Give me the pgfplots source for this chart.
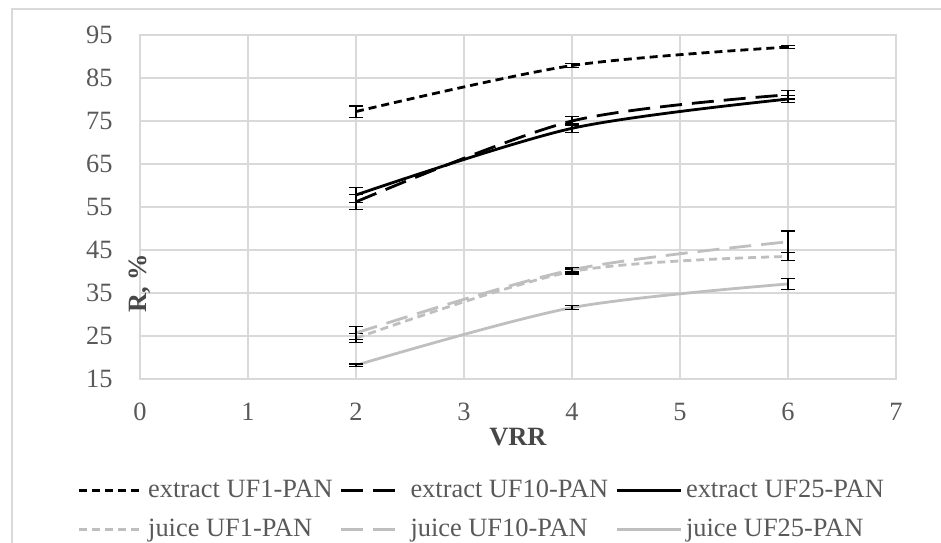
\documentclass[border=0pt]{standalone}
\usepackage{fontspec}
\setmainfont{Liberation Serif}
\usepackage{pgfplots}
\pgfplotsset{compat=1.18}
\usepackage{pgfplotstable}
\definecolor{gridgray}{HTML}{D9D9D9}
\definecolor{txtgray}{HTML}{595959}
\definecolor{juicegray}{HTML}{BFBFBF}

% x = VRR, y = R %, e = error
\pgfplotstableread{
x y e
2 77.2 1.3
4 87.9 0.4
6 92.2 0.3
}\extA
\pgfplotstableread{
x y e
2 56.2 1.8
4 75.0 1.1
6 81.1 1.0
}\extB
\pgfplotstableread{
x y e
2 57.8 1.7
4 73.3 1.0
6 80.1 0.8
}\extC
\pgfplotstableread{
x y e
2 24.5 1.0
4 40.0 0.6
6 43.5 1.0
}\juiA
\pgfplotstableread{
x y e
2 25.7 1.6
4 40.4 0.5
6 46.9 2.5
}\juiB
\pgfplotstableread{
x y e
2 18.2 0.3
4 31.6 0.5
6 37.1 1.3
}\juiC

\begin{document}
\begin{tikzpicture}
\useasboundingbox (-70pt,-81.5pt) rectangle (400.5pt,189.5pt);
\draw[gridgray, line width=0.8pt] (-64pt,-90pt) -- (-64pt,185pt) -- (410pt,185pt);
\begin{axis}[
    at={(0,0)}, anchor=south west,
    scale only axis,
    width=378pt, height=172pt,
    xmin=0, xmax=7, ymin=15, ymax=95,
    xtick={0,1,...,7},
    ytick={15,25,...,95},
    major tick length=0pt,
    grid=major,
    grid style={gridgray, line width=0.6pt},
    axis line style={gridgray, line width=0.6pt},
    /pgf/number format/assume math mode=true,
    font=\fontsize{13.2}{15.5}\selectfont,
    tick label style={txtgray},
    yticklabel style={anchor=east, inner sep=0pt, xshift=-13.5pt},
    xticklabel style={anchor=north, inner sep=0pt, yshift=-12pt},
    xlabel={\textbf{VRR}},
    ylabel={\textbf{R, \%}},
    xlabel style={at={(axis description cs:0.5,0)}, anchor=north, inner sep=0pt, yshift=-24.5pt, txtgray!80!black},
    ylabel style={at={(axis description cs:0,0.5)}, anchor=center, inner sep=0pt, xshift=-38pt, txtgray!80!black},
    legend columns=3,
    legend cell align=left,
    legend style={at={(axis description cs:-0.0913,-0.27)}, anchor=north west,
        draw=none, fill=none, text=txtgray, row sep=5pt,
        /tikz/every even column/.append style={column sep=1.5pt}},
    legend image code/.code={\draw[#1] (0pt,0pt) -- (32pt,0pt);},
    every axis plot/.append style={line width=1.4pt, smooth, tension=0.5},
    error bars/y dir=both,
    error bars/y explicit,
    error bars/error bar style={solid, black, line width=0.6pt},
    error bars/error mark options={rotate=90, mark size=3.5pt, solid, black, line width=0.6pt},
]
\addplot[black, dash pattern=on 4pt off 2.5pt] table[x=x, y=y, y error=e] {\extA};
\addlegendentry{extract UF1-PAN}
\addplot[black, dash pattern=on 11pt off 5pt] table[x=x, y=y, y error=e] {\extB};
\addlegendentry{extract UF10-PAN}
\addplot[black] table[x=x, y=y, y error=e] {\extC};
\addlegendentry{extract UF25-PAN}
\addplot[juicegray, dash pattern=on 4pt off 2.5pt] table[x=x, y=y, y error=e] {\juiA};
\addlegendentry{juice UF1-PAN}
\addplot[juicegray, dash pattern=on 11pt off 5pt] table[x=x, y=y, y error=e] {\juiB};
\addlegendentry{juice UF10-PAN}
\addplot[juicegray] table[x=x, y=y, y error=e] {\juiC};
\addlegendentry{juice UF25-PAN}
\end{axis}
\end{tikzpicture}
\end{document}
